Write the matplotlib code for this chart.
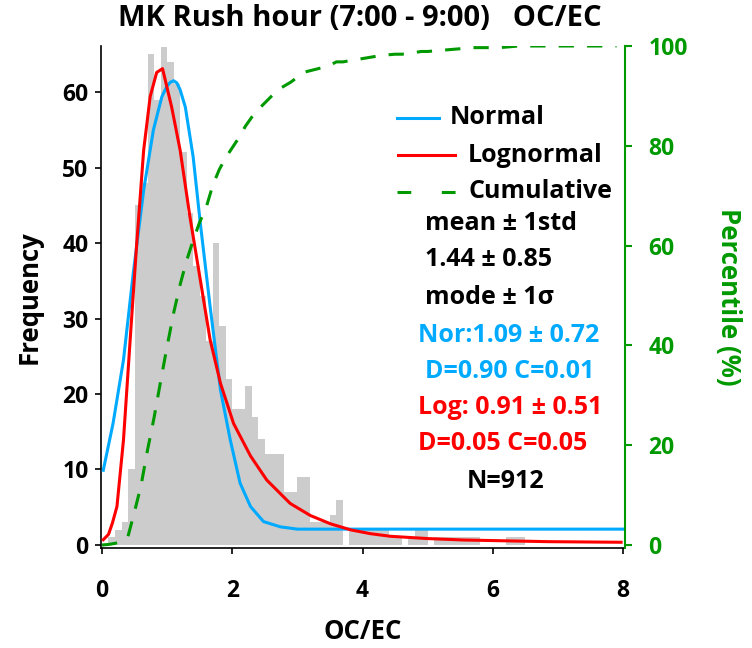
import numpy as np
import matplotlib
matplotlib.use('Agg')
import matplotlib.pyplot as plt
from matplotlib.lines import Line2D

plt.rcParams['font.family'] = ['Open Sans', 'DejaVu Sans']
plt.rcParams['font.weight'] = 'bold'

# histogram of OC/EC, bins of 0.1 starting at 0
BIN_WIDTH = 0.1
counts = [0, 1, 2, 3, 10, 45, 48, 65, 59, 66, 64, 61, 52, 44, 37, 33, 27, 40, 29, 22,
          18, 18, 21, 17, 14, 12, 12, 12, 7, 7, 9, 9, 3, 3, 3, 4, 6, 0, 2, 2,
          2, 2, 2, 2, 1, 1, 0, 1, 2, 2, 0, 1, 1, 1, 1, 1, 1, 1, 0, 0,
          0, 0, 1, 1, 1, 0, 0, 0, 0, 0, 0, 0, 0, 0, 0, 0, 0, 0, 0, 0]

# normal fit curve
norm_x = [0.02, 0.17, 0.33, 0.48, 0.64, 0.79, 0.92, 1.0, 1.05, 1.1, 1.15, 1.2, 1.28,
          1.40, 1.51, 1.66, 1.82, 1.97, 2.12, 2.28, 2.48, 2.74, 3.0, 8.0]
norm_y = [9.9, 16.1, 24.5, 36.0, 47.0, 55.0, 59.4, 60.8, 61.3, 61.5, 61.2, 60.3, 58.0,
          51.4, 42.6, 31.6, 20.5, 13.9, 8.2, 5.1, 3.1, 2.4, 2.1, 2.1]

# lognormal fit curve
logn_x = [0.02, 0.10, 0.16, 0.23, 0.33, 0.45, 0.53, 0.64, 0.74, 0.84, 0.93, 1.07,
          1.20, 1.35, 1.51, 1.66, 1.82, 2.02, 2.28, 2.53, 2.89, 3.20, 3.51, 3.82,
          4.12, 4.43, 5.0, 5.55, 6.85, 7.97]
logn_y = [0.7, 1.4, 2.9, 5.1, 13.9, 29.4, 39.5, 52.3, 59.4, 62.6, 63.1, 58.0,
          52.3, 43.5, 35.1, 27.2, 21.4, 16.1, 11.8, 8.6, 5.5, 3.9, 2.8, 2.0,
          1.5, 1.15, 0.85, 0.66, 0.44, 0.36]

stats_lines = [
    ('mean \u00b1 1std', 'black', 425, 223),
    ('1.44 \u00b1 0.85', 'black', 425, 260),
    ('mode \u00b1 1\u03c3', 'black', 425, 298),
    ('Nor:1.09 \u00b1 0.72', '#00AAFF', 418, 335),
    ('D=0.90 C=0.01', '#00AAFF', 425, 372),
    ('Log: 0.91 \u00b1 0.51', 'red', 418, 408),
    ('D=0.05 C=0.05', 'red', 418, 443),
    ('N=912', 'black', 467, 482),
]

W, H = 752, 648
BLUE = '#00AAFF'
GREEN = '#009900'
FS = 18
TICK_FS = 16.5
LAB_FS = 18.5

fig = plt.figure(figsize=(W / 100, H / 100), dpi=100)
ax = fig.add_axes([101 / W, 1 - 548 / H, 524 / W, 502 / H])
ax2 = ax.twinx()

counts = np.array(counts, dtype=float)
edges = np.arange(len(counts) + 1) * BIN_WIDTH
ax.bar(edges[:-1], counts, width=BIN_WIDTH, align='edge', color='#CCCCCC',
       edgecolor='none', zorder=1)
ax.plot(norm_x, norm_y, color=BLUE, lw=2.2, zorder=3)
ax.plot(logn_x, logn_y, color='red', lw=2.2, zorder=4)

cum = np.cumsum(counts) / counts.sum() * 100
ax2.plot(edges[:-1], cum, color=GREEN, lw=2.2, dashes=(5, 4.3), zorder=5)

ax.set_xlim(-0.015, 8.03)
ax.set_ylim(-0.4, 66.1)
ax2.set_ylim(-0.6, 100)

ax.set_xticks([0, 2, 4, 6, 8])
ax.set_yticks([0, 10, 20, 30, 40, 50, 60])
ax2.set_yticks([0, 20, 40, 60, 80, 100])

for a in (ax, ax2):
    a.spines['top'].set_visible(False)
ax.spines['right'].set_visible(False)
ax2.spines['left'].set_visible(False)
ax2.spines['bottom'].set_visible(False)
ax2.spines['right'].set_color(GREEN)
ax2.spines['right'].set_linewidth(1.5)
ax.spines['left'].set_linewidth(1.2)
ax.spines['bottom'].set_linewidth(1.2)

ax.tick_params(axis='y', labelsize=TICK_FS, length=4, width=1.2, pad=5)
ax.tick_params(axis='x', labelsize=TICK_FS, length=4, width=1.2, pad=18)
ax2.tick_params(axis='y', labelsize=TICK_FS, length=5, width=1.5, colors=GREEN, pad=12)
for lab in ax.get_xticklabels() + ax.get_yticklabels() + ax2.get_yticklabels():
    lab.set_fontweight('bold')

ax.set_xlabel('OC/EC', fontsize=LAB_FS, fontweight='bold', labelpad=11)
ax.set_ylabel('Frequency', fontsize=LAB_FS, fontweight='bold', labelpad=14)
ax2.set_ylabel('Percentile (%)', fontsize=LAB_FS, fontweight='bold', color=GREEN,
               rotation=-90, labelpad=39)

fig.text(360 / W, 1 - 19 / H, 'MK Rush hour (7:00 - 9:00)   OC/EC', ha='center',
         va='center', fontsize=21, fontweight='bold')

# legend drawn by hand
leg = [('Normal', BLUE, 397, 439, 450, 118, '-'),
       ('Lognormal', 'red', 398, 455, 468, 155, '-'),
       ('Cumulative', GREEN, 397, 457, 468, 192, '--')]
for label, col, x1, x2, tx, ty, ls in leg:
    line = Line2D([x1 / W, x2 / W], [1 - ty / H, 1 - ty / H], transform=fig.transFigure,
                  color=col, lw=2.2)
    if ls == '--':
        line.set_dashes((4.5, 10))
    fig.add_artist(line)
    fig.text(tx / W, 1 - ty / H, label, ha='left', va='center', fontsize=FS,
             fontweight='bold')

for txt, col, px, py in stats_lines:
    fig.text(px / W, 1 - py / H, txt, ha='left', va='center', fontsize=FS,
             fontweight='bold', color=col)

fig.savefig('out.png', dpi=100)
